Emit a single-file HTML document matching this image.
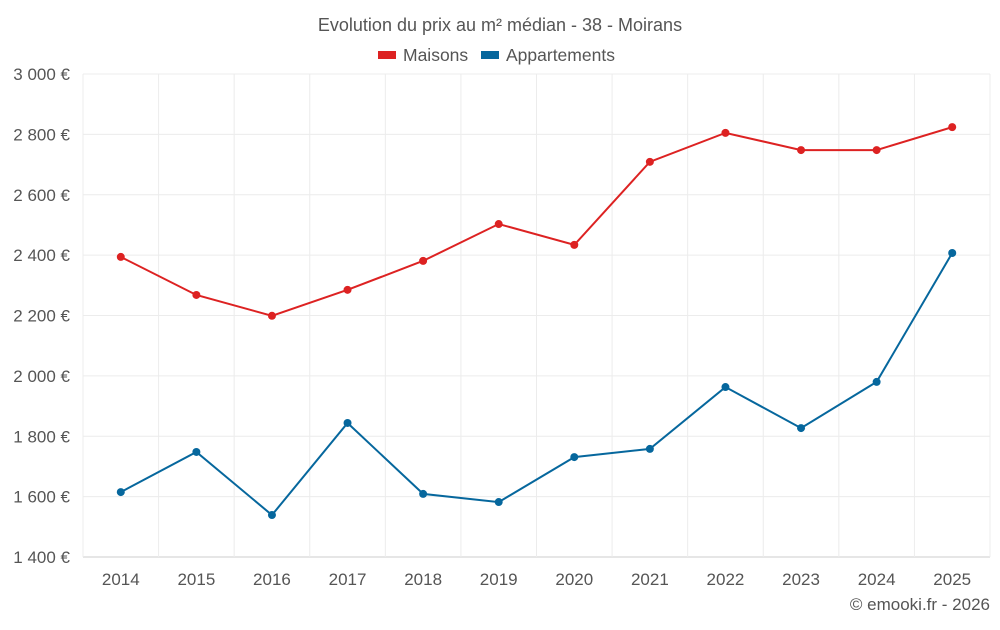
<!DOCTYPE html>
<html><head><meta charset="utf-8"><style>
body{margin:0;background:#fff;font-family:"Liberation Sans",sans-serif;}
svg text{font-family:"Liberation Sans",sans-serif;fill:#555;}
</style></head><body>
<svg id="chart" width="1000" height="625">
<text x="500" y="31" text-anchor="middle" font-size="18">Evolution du prix au m² médian - 38 - Moirans</text>
<g>
<g><rect x="378" y="51" width="18" height="8" fill="#dd2222"/><text x="403" y="61" font-size="17.5">Maisons</text></g>
<g><rect x="481" y="51" width="18" height="8" fill="#06679d"/><text x="506" y="61" font-size="17.5">Appartements</text></g>
</g>
<g id="grid"></g><g id="axes"></g><g id="series"></g>
<text x="990" y="610" text-anchor="end" font-size="17">© emooki.fr - 2026</text>
</svg>
<script>
const years=[2014,2015,2016,2017,2018,2019,2020,2021,2022,2023,2024,2025];
const maisons=[2394,2268,2199,2285,2381,2503,2434,2709,2805,2748,2748,2824];
const appartements=[1615,1748,1539,1844,1609,1582,1731,1758,1963,1827,1980,2407];
const yTicks=[1400,1600,1800,2000,2200,2400,2600,2800,3000];
const yLabels=["1 400 €","1 600 €","1 800 €","2 000 €","2 200 €","2 400 €","2 600 €","2 800 €","3 000 €"];
const L=83,R=990,T=74,B=557,ymin=1400,ymax=3000;
const bw=(R-L)/years.length;
const x=i=>L+bw*(i+0.5);
const y=v=>B-(v-ymin)/(ymax-ymin)*(B-T);
const NS="http://www.w3.org/2000/svg";
function mk(tag,attrs,parent){const e=document.createElementNS(NS,tag);for(const k in attrs)e.setAttribute(k,attrs[k]);document.getElementById(parent).appendChild(e);return e;}
yTicks.forEach((t,i)=>{
 const g=mk('line',{x1:L,x2:R,y1:y(t),y2:y(t),stroke:i==0?'#ccc':'#ececec'},'grid');
 
 
 const tx=mk('text',{x:70,y:y(t)+6,'text-anchor':'end','font-size':17},'axes');tx.textContent=yLabels[i];
 
 
});
for(let i=0;i<=years.length;i++){
 const g=mk('line',{x1:L+bw*i,x2:L+bw*i,y1:T,y2:B,stroke:'#ececec'},'grid');
 
 
}
years.forEach((yr,i)=>{
 const tx=mk('text',{x:x(i),y:585,'text-anchor':'middle','font-size':17},'axes');tx.textContent=yr;
 
 
});
function series(data,color,name){
 const p=mk('polyline',{points:data.map((v,i)=>x(i)+','+y(v)).join(' '),fill:'none',stroke:color,'stroke-width':2},'series');
 
 
 data.forEach((v,i)=>{
  const c=mk('circle',{cx:x(i),cy:y(v),r:4,fill:color},'series');
  
  
 });
}
series(maisons,'#dd2222','maisons');
series(appartements,'#06679d','appartements');
</script>
</body></html>
